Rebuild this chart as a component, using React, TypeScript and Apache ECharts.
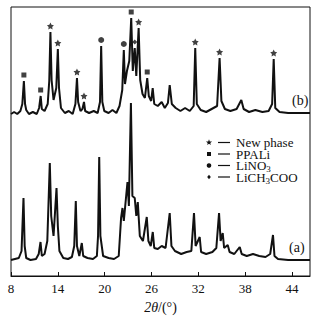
import React, { useEffect, useRef } from "react";
import * as echarts from "echarts";

// 2θ tick labels
const xTicks = [8, 14, 20, 26, 32, 38, 44];

// Pattern (a): [2θ, intensity (arb.)]
const traceA: [number, number][] = [
  [8.0, 16], [8.5, 17], [9.0, 18], [9.35, 25], [9.6, 78], [9.75, 30], [9.95, 18],
  [10.5, 16], [11.2, 17], [11.55, 22], [11.78, 34], [11.95, 20], [12.3, 22],
  [12.65, 35], [12.97, 113], [13.15, 60], [13.45, 40], [13.83, 88], [14.0, 50],
  [14.2, 25], [14.7, 18], [15.3, 17], [15.8, 19], [16.1, 30], [16.3, 75],
  [16.45, 30], [16.75, 20], [17.07, 33], [17.25, 20], [17.8, 18], [18.5, 17],
  [19.0, 20], [19.15, 40], [19.3, 119], [19.45, 40], [19.8, 20], [20.5, 18],
  [21.2, 17], [21.8, 20], [22.1, 58], [22.28, 68], [22.45, 55], [22.92, 94],
  [23.1, 70], [23.36, 173], [23.55, 80], [23.85, 78], [24.05, 60], [24.24, 74],
  [24.5, 40], [24.9, 35], [25.39, 59], [25.6, 35], [25.9, 30], [26.16, 44],
  [26.35, 28], [26.8, 27], [27.3, 30], [27.8, 28], [28.33, 63], [28.55, 30],
  [29.0, 25], [29.8, 22], [30.5, 24], [31.1, 25], [31.44, 63], [31.65, 30],
  [32.17, 39], [32.35, 24], [33.0, 22], [33.8, 24], [34.3, 28], [34.65, 63],
  [34.85, 35], [35.12, 43], [35.3, 28], [35.76, 31], [36.0, 24], [36.6, 22],
  [37.3, 29], [37.55, 22], [38.2, 20], [39.0, 22], [39.8, 20], [40.6, 19],
  [41.2, 22], [41.56, 41], [41.75, 20], [42.2, 17], [43.5, 16], [45.0, 16],
  [46.3, 16],
];

// Pattern (b): [2θ, intensity (arb., offset)]
const traceB: [number, number][] = [
  [8.0, 162], [8.4, 164], [8.8, 162], [9.2, 165], [9.45, 172], [9.65, 195],
  [9.8, 172], [9.95, 166], [10.3, 162], [10.8, 164], [11.3, 162], [11.6, 168],
  [11.8, 180], [11.95, 167], [12.3, 165], [12.7, 172], [12.9, 195], [13.05, 244],
  [13.2, 196], [13.45, 176], [13.8, 188], [14.0, 227], [14.15, 188], [14.4, 168],
  [14.9, 163], [15.4, 165], [15.9, 162], [16.25, 172], [16.45, 198], [16.6, 174],
  [16.9, 165], [17.15, 167], [17.35, 174], [17.5, 165], [18.0, 163], [18.6, 165],
  [19.1, 163], [19.4, 174], [19.55, 230], [19.7, 174], [19.95, 165], [20.5, 163],
  [21.0, 166], [21.5, 163], [21.9, 170], [22.25, 186], [22.45, 226], [22.6, 192],
  [22.85, 205], [23.15, 215], [23.4, 258], [23.6, 205], [23.85, 228], [24.05, 200],
  [24.35, 248], [24.55, 196], [24.85, 182], [25.15, 178], [25.45, 198], [25.65, 180],
  [25.95, 175], [26.15, 188], [26.35, 172], [26.8, 170], [27.3, 174], [27.7, 168],
  [28.1, 173], [28.33, 191], [28.6, 172], [29.1, 168], [29.7, 165], [30.3, 168],
  [30.9, 165], [31.4, 170], [31.6, 228], [31.8, 172], [32.3, 166], [33.0, 164],
  [33.7, 167], [34.4, 170], [34.72, 218], [34.95, 175], [35.4, 167], [36.1, 165],
  [36.9, 167], [37.5, 176], [37.8, 167], [38.5, 164], [39.3, 166], [40.2, 164],
  [41.0, 165], [41.45, 172], [41.65, 217], [41.85, 168], [42.4, 164], [43.5, 163],
  [45.0, 163], [46.3, 163],
];

// Phase assignments of peaks in pattern (b)
const newPhasePeaks = [13.05, 14.0, 16.45, 17.35, 24.35, 31.6, 34.72, 41.65];
const ppaliPeaks = [9.65, 11.8, 23.4, 25.45];
const lino3Peaks = [19.55, 22.45];
const liAcPeaks = [23.85];

// legend labels (rich text: {s|..} = subscript)
const legendNames = ["New phase", "PPALi", "LiNO{s|3}", "LiCH{s|3}COO"];
const traceLabels = ["(a)", "(b)"];

const STAR =
  "path://M0,-10L2.9,-4L9.5,-3.1L4.8,1.5L5.9,8.1L0,5L-5.9,8.1L-4.8,1.5L-9.5,-3.1L-2.9,-4Z";
const FONT = '"Liberation Serif", "Times New Roman", serif';
const INK = "#111";

function markerData(peaks: number[], lift: number) {
  return peaks.map((p) => {
    const pt = traceB.find((d) => d[0] === p);
    return [p, (pt ? pt[1] : 0) + lift];
  });
}

function starPoints(cx: number, cy: number, r: number) {
  const pts: number[][] = [];
  for (let i = 0; i < 10; i++) {
    const a = -Math.PI / 2 + (i * Math.PI) / 5;
    const rr = i % 2 === 0 ? r : r * 0.42;
    pts.push([cx + rr * Math.cos(a), cy + rr * Math.sin(a)]);
  }
  return pts;
}

export default function App() {
  const ref = useRef<HTMLDivElement>(null);

  useEffect(() => {
    if (!ref.current) return;
    const chart = echarts.init(ref.current, undefined, { renderer: "svg" });

    const rows = [142.5, 154, 165.5, 177];
    const symX = 209;
    const legendGraphics: any[] = [];
    rows.forEach((y, i) => {
      legendGraphics.push({
        type: "line",
        shape: { x1: 218, y1: y, x2: 230, y2: y },
        style: { stroke: INK, lineWidth: 1.2 },
      });
      legendGraphics.push({
        type: "text",
        x: 236,
        y: y - 5.5,
        style: {
          text: legendNames[i],
          fill: INK,
          fontFamily: FONT,
          fontSize: 13,
          lineHeight: 11,
          verticalAlign: "top",
          rich: {
            s: {
              fontFamily: FONT,
              fontSize: 9,
              lineHeight: 11,
              fill: INK,
              padding: [7, 0, 0, 0],
            },
          },
        },
      });
    });
    legendGraphics.push({
      type: "polygon",
      shape: { points: starPoints(symX, rows[0], 3.2) },
      style: { fill: INK },
    });
    legendGraphics.push({
      type: "rect",
      shape: { x: symX - 2, y: rows[1] - 2, width: 4, height: 4 },
      style: { fill: INK },
    });
    legendGraphics.push({
      type: "circle",
      shape: { cx: symX, cy: rows[2], r: 2.3 },
      style: { fill: INK },
    });
    legendGraphics.push({
      type: "polygon",
      shape: {
        points: [
          [symX, rows[3] - 2.2],
          [symX + 1.8, rows[3]],
          [symX, rows[3] + 2.2],
          [symX - 1.8, rows[3]],
        ],
      },
      style: { fill: INK },
    });
    legendGraphics.push({
      type: "text",
      x: 289,
      y: 247,
      style: { text: traceLabels[0], fill: INK, font: `14px ${FONT}`, verticalAlign: "middle" },
    });
    legendGraphics.push({
      type: "text",
      x: 292,
      y: 100,
      style: { text: traceLabels[1], fill: INK, font: `14px ${FONT}`, verticalAlign: "middle" },
    });

    chart.setOption({
      animation: false,
      backgroundColor: "#fff",
      grid: {
        left: 11,
        right: 10,
        top: 7,
        bottom: 45,
        show: true,
        borderColor: INK,
        borderWidth: 1,
        containLabel: false,
      },
      xAxis: {
        type: "value",
        min: 8,
        max: 46.3,
        interval: 6,
        name: "{i|2θ}/(°)",
        nameLocation: "middle",
        nameGap: 24,
        nameTextStyle: {
          color: INK,
          fontFamily: FONT,
          fontSize: 14,
          rich: { i: { fontStyle: "italic", fontFamily: FONT, fontSize: 14, color: INK } },
        },
        axisLine: { show: true, lineStyle: { color: INK, width: 1 } },
        axisTick: { show: true, inside: true, length: 4, lineStyle: { color: INK } },
        axisLabel: {
          color: INK,
          fontFamily: FONT,
          fontSize: 13,
          margin: 6,
          showMaxLabel: false,
          formatter: (v: number) => (xTicks.includes(v) ? String(v) : ""),
        },
        splitLine: { show: false },
      },
      yAxis: {
        type: "value",
        min: 0,
        max: 269,
        show: false,
        splitLine: { show: false },
      },
      series: [
        {
          type: "line",
          data: traceA,
          showSymbol: false,
          lineStyle: { color: INK, width: 2 },
          z: 2,
        },
        {
          type: "line",
          data: traceB,
          showSymbol: false,
          lineStyle: { color: INK, width: 2 },
          z: 2,
        },
        {
          type: "scatter",
          data: markerData(newPhasePeaks, 6),
          symbol: STAR,
          symbolSize: 7,
          itemStyle: { color: INK },
          z: 3,
        },
        {
          type: "scatter",
          data: markerData(ppaliPeaks, 6),
          symbol: "rect",
          symbolSize: 5,
          itemStyle: { color: INK },
          z: 3,
        },
        {
          type: "scatter",
          data: markerData(lino3Peaks, 6),
          symbol: "circle",
          symbolSize: 6,
          itemStyle: { color: INK },
          z: 3,
        },
        {
          type: "scatter",
          data: markerData(liAcPeaks, 6),
          symbol: "diamond",
          symbolSize: 5,
          itemStyle: { color: INK },
          z: 3,
        },
      ],
      graphic: legendGraphics,
    });

    return () => chart.dispose();
  }, []);

  return (
    <div
      ref={ref}
      style={{ position: "fixed", left: 0, top: 0, width: 320, height: 321, background: "#fff" }}
    />
  );
}
